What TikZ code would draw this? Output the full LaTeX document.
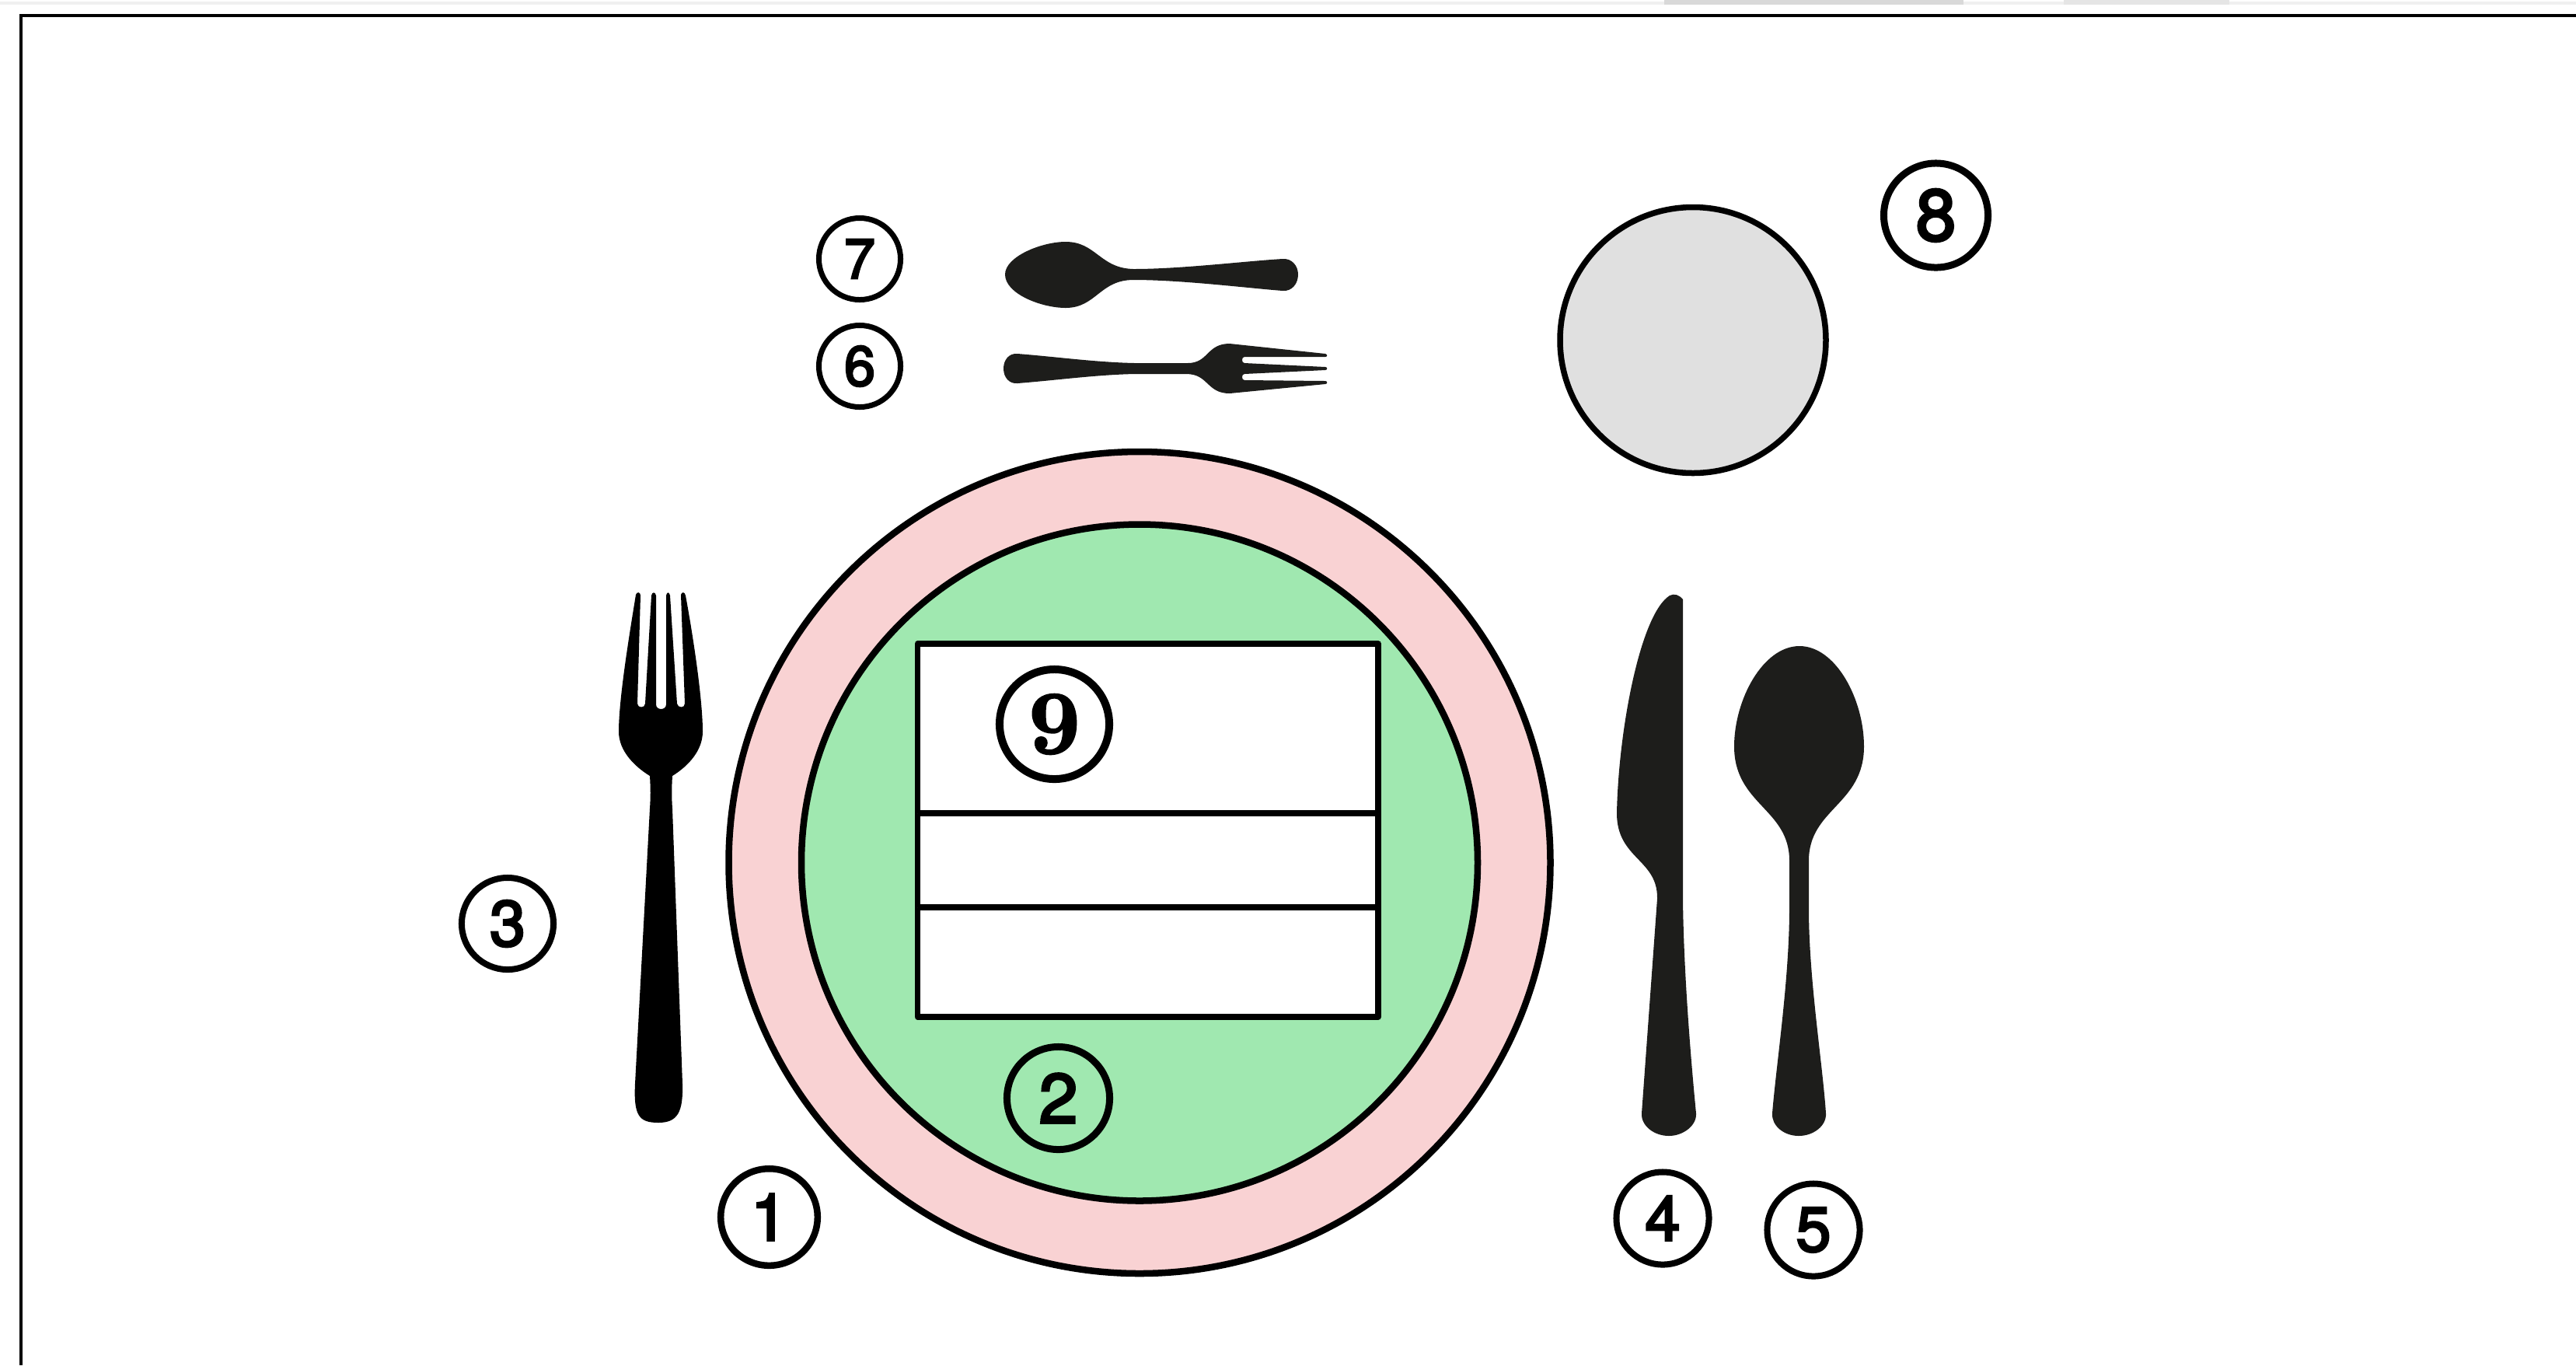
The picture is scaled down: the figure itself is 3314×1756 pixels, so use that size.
\documentclass[tikz,border=0pt]{standalone}
\usepackage{fontspec}
\newfontfamily\numfont[FakeBold=3.5]{TeX Gyre Heros}
\newfontfamily\ninefont[FakeBold=2,Extension=.otf]{lmroman10-bold}
\usepackage{tikz}
\usetikzlibrary{positioning,calc}
\definecolor{platepink}{HTML}{F9D2D3}
\definecolor{plategreen}{HTML}{A0E8B0}
\definecolor{breadgrey}{HTML}{E0E0E0}
\definecolor{cutlery}{HTML}{1D1D1B}
\tikzset{
	platering/.style={draw=black,line width=0.085cm},
	cardbox/.style={draw=black,fill=white,line width=0.075cm,line join=round},
	silver/.style={fill=cutlery,draw=none},
	numlabel/.style n args={3}{circle,draw=black,inner sep=0pt,outer sep=0pt,minimum size=#1,line width=#2,font=\numfont\fontsize{#3}{#3}\selectfont}
}
\begin{document}
\begin{tikzpicture}[x=0.01cm,y=-0.01cm]
	\useasboundingbox (0,0) rectangle (3314,1756);
	\fill[black!6] (0,2) rectangle (3314,6);
	\fill[black!15] (2141,0) rectangle (2526,6);
	\fill[black!10] (2655,0) rectangle (2868,6);
	\draw[black,line width=0.03cm] (27,1756) -- (27,20);
	\draw[black,line width=0.04cm] (25,20) -- (3314,20);

	\draw[platering,fill=platepink] (1466,1109.5) circle [radius=528.5];
	\draw[platering,fill=plategreen] (1466,1109.5) circle [radius=435];
	\draw[platering,line width=0.075cm,fill=breadgrey] (2178,437.5) circle [radius=171];

	\draw[cardbox] (1180.5,828) rectangle (1773,1308);
	\draw[cardbox] (1180.5,1046) -- (1773,1046);
	\draw[cardbox] (1180.5,1167) -- (1773,1167);

	\fill[black] (818,765) .. controls (809,820) and (796,900) .. (796,941)
		.. controls (796,965) and (815,985) .. (836,998)
		.. controls (837,1015) and (837,1025) .. (836,1040) -- (817,1394)
		.. controls (815,1435) and (822,1444) .. (847,1444)
		.. controls (872,1444) and (879,1430) .. (878,1394) -- (865,1040)
		.. controls (864,1025) and (864,1015) .. (865,998)
		.. controls (886,985) and (904,965) .. (904,941)
		.. controls (904,900) and (892,820) .. (882,766)
		.. controls (881,761) and (877,761) .. (876,765) -- (881,905)
		.. controls (881,911) and (872,911) .. (871,905) -- (862,766)
		.. controls (861,761) and (858,761) .. (857,766) -- (857,906)
		.. controls (857,914) and (844,914) .. (844,906) -- (844,766)
		.. controls (843,761) and (839,761) .. (838,766) -- (830,905)
		.. controls (830,911) and (820,911) .. (820,905) -- (824,766)
		.. controls (824,761) and (819,761) .. (818,765) -- cycle;

	\fill[silver] (2165,771) -- (2165,1156) .. controls (2166,1250) and (2175,1360) .. (2182,1432)
		.. controls (2183,1448) and (2165,1461) .. (2147,1461)
		.. controls (2128,1461) and (2111,1448) .. (2112,1432) -- (2132,1156)
		.. controls (2133,1105) and (2080,1105) .. (2080,1046)
		.. controls (2082,940) and (2110,790) .. (2148,766)
		.. controls (2154,763) and (2160,765) .. (2165,771) -- cycle;

	\fill[silver] (2315,831) .. controls (2362,831) and (2398,900) .. (2398,960)
		.. controls (2398,1035) and (2327,1040) .. (2327,1107) -- (2327,1169)
		.. controls (2327,1260) and (2345,1370) .. (2349,1432)
		.. controls (2350,1448) and (2333,1461) .. (2314,1461)
		.. controls (2295,1461) and (2279,1448) .. (2280,1432)
		.. controls (2285,1370) and (2302,1260) .. (2302,1169) -- (2302,1107)
		.. controls (2302,1040) and (2231,1035) .. (2231,960)
		.. controls (2231,900) and (2268,831) .. (2315,831) -- cycle;

	\fill[silver] (1293,353) .. controls (1293,330) and (1340,311) .. (1371,311)
		.. controls (1410,311) and (1415,345) .. (1458,346)
		.. controls (1520,346) and (1600,336) .. (1650,333)
		.. controls (1662,332) and (1670,342) .. (1670,353)
		.. controls (1670,365) and (1662,375) .. (1650,374)
		.. controls (1600,370) and (1520,360) .. (1458,360)
		.. controls (1415,360) and (1410,396) .. (1371,396)
		.. controls (1340,396) and (1293,378) .. (1293,353) -- cycle;

	\fill[silver] (1291,474) .. controls (1291,463) and (1298,454) .. (1309,455)
		.. controls (1360,459) and (1410,466) .. (1460,467) -- (1528,467)
		.. controls (1555,467) and (1552,442) .. (1582,442) -- (1705,455)
		.. controls (1708,456) and (1708,459) .. (1705,459) -- (1601,459)
		.. controls (1597,459) and (1597,467) .. (1601,467) -- (1705,472)
		.. controls (1708,472) and (1708,476) .. (1705,476) -- (1601,481)
		.. controls (1597,481) and (1597,489) .. (1601,489) -- (1705,490)
		.. controls (1708,490) and (1708,494) .. (1705,494) -- (1582,506)
		.. controls (1552,506) and (1555,481) .. (1526,481) -- (1460,481)
		.. controls (1410,482) and (1360,489) .. (1309,493)
		.. controls (1298,494) and (1291,485) .. (1291,474) -- cycle;

	\node[numlabel={1.245cm}{0.085cm}{24}] (one) at (989.5,1565.5) {1};
	\node[numlabel={1.32cm}{0.09cm}{25.5}] (two) at (1361.5,1412.5) {2};
	\node[numlabel={1.18cm}{0.08cm}{23.5}] (three) at (653,1188) {3};
	\node[numlabel={1.19cm}{0.08cm}{23}] (four) at (2139,1567) {4};
	\node[numlabel={1.19cm}{0.08cm}{23}] (five) at (2333,1582) {5};
	\node[numlabel={1.05cm}{0.07cm}{20.5}] (six) at (1106,471) {6};
	\node[numlabel={1.05cm}{0.07cm}{20.5}] (seven) at (1106,333) {7};
	\node[numlabel={1.34cm}{0.09cm}{26.5}] (eight) at (2490.5,277) {8};
	\node[numlabel={1.41cm}{0.10cm}{33},font=\ninefont\fontsize{33}{33}\selectfont] (nine) at (1356.5,931.5) {9};
\end{tikzpicture}
\end{document}
